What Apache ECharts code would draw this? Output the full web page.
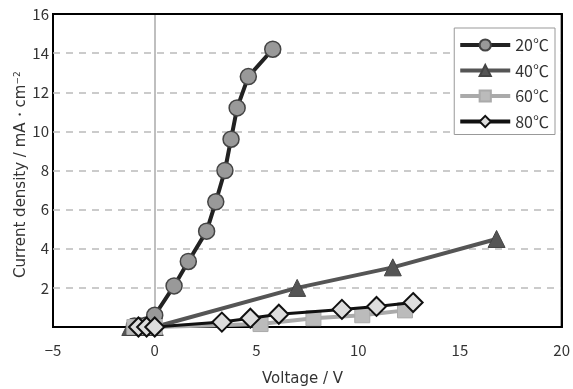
<!DOCTYPE html>
<html><head><meta charset="utf-8">
<script src="https://cdn.jsdelivr.net/npm/echarts@6/dist/echarts.min.js"></script>
<style>html,body{margin:0;padding:0;background:#fff}#c{width:573px;height:389px}</style>
</head><body><div id="c"></div>
<script>
const seriesNames = ['20℃', '40℃', '60℃', '80℃'];
const data20 = [[-1.0,0.05],[-0.7,0.05],[-0.4,0.1],[0,0.6],[0.95,2.1],[1.65,3.35],[2.55,4.9],[3.0,6.4],[3.45,8.0],[3.75,9.6],[4.05,11.2],[4.6,12.8],[5.8,14.2]];
const data40 = [[-1.2,0],[-0.8,0],[-0.4,0],[0,0],[7.0,2.0],[11.7,3.05],[16.8,4.5]];
const data60 = [[-1.0,0],[-0.5,0],[0,0],[5.2,0.15],[7.8,0.45],[10.2,0.6],[12.3,0.85]];
const data80 = [[-0.8,0],[-0.4,0],[0,0],[3.3,0.25],[4.7,0.45],[6.1,0.65],[9.2,0.9],[10.9,1.05],[12.7,1.25]];
const xTicks = [-5, 0, 5, 10, 15, 20];
const yTicks = [2, 4, 6, 8, 10, 12, 14, 16];

const font = '"Noto Sans CJK JP", "Noto Sans", sans-serif';
const wfont = '"DejaVu Sans", sans-serif';
const lineColors = ['#222', '#555', '#aaa', '#111'];
const frameAxis = { show: true, lineStyle: { color: '#000', width: 2 } };
const chart = echarts.init(document.getElementById('c'));
chart.setOption({
  animation: false,
  textStyle: { fontFamily: font },
  grid: { left: 53, right: 10, top: 14, bottom: 62, show: true, borderColor: '#000', borderWidth: 2, containLabel: false },
  xAxis: [{
    type: 'value', min: -5, max: 20, interval: 5,
    axisLine: { onZero: false, lineStyle: { color: '#000', width: 2 } },
    axisTick: { show: false },
    splitLine: { show: false },
    axisLabel: { color: '#333', fontSize: 15, margin: 16, fontFamily: font,
      formatter: v => xTicks.includes(v) ? String(v).replace('-', '−') : '' }
  }, {
    type: 'value', min: -5, max: 20, position: 'top',
    axisLine: { onZero: false, ...frameAxis }, axisTick: { show: false }, axisLabel: { show: false }, splitLine: { show: false }
  }],
  yAxis: [{
    type: 'value', min: 0, max: 16, interval: 2,
    axisLine: { onZero: true, lineStyle: { color: '#aaa', width: 1.5 } },
    axisTick: { show: false },
    splitLine: { show: true, lineStyle: { color: '#bbb', type: [7, 6], width: 1.5 } },
    axisLabel: { color: '#333', fontSize: 15, margin: 4, fontFamily: font,
      formatter: v => yTicks.includes(v) ? String(v) : '' }
  }, {
    type: 'value', min: 0, max: 16, position: 'right',
    axisLine: { onZero: false, ...frameAxis }, axisTick: { show: false }, axisLabel: { show: false }, splitLine: { show: false }
  }],
  legend: {
    orient: 'vertical', right: 18, top: 28, itemWidth: 50, itemHeight: 14, itemGap: 9.5,
    backgroundColor: '#fff', borderColor: '#999', borderWidth: 1, padding: [9, 6, 5, 4],
    textStyle: { fontSize: 16, color: '#333', fontFamily: font },
    data: seriesNames.map((n, i) => ({ name: n, lineStyle: { width: 4, color: lineColors[i] } }))
  },
  graphic: [
    { type: 'text', left: 262, top: 372, style: { text: 'Voltage / V', fontSize: 15, fill: '#333', fontFamily: wfont } },
    { type: 'text', x: 13, y: 278, rotation: Math.PI / 2,
      style: { text: '{a|Current density / mA・cm}{s|−2}', fill: '#333', fontFamily: wfont,
        rich: { a: { fontSize: 15, fill: '#333', fontFamily: wfont }, s: { fontSize: 9, fill: '#333', verticalAlign: 'top', padding: [0,0,8,0], fontFamily: wfont } } } }
  ],
  series: [
    { name: seriesNames[0], type: 'line', data: data20, symbol: 'circle', symbolSize: 16,
      lineStyle: { color: lineColors[0], width: 4 }, itemStyle: { color: '#999', borderColor: '#444', borderWidth: 1.5 }, z: 3 },
    { name: seriesNames[1], type: 'line', data: data40, symbol: 'triangle', symbolSize: 17,
      lineStyle: { color: lineColors[1], width: 4 }, itemStyle: { color: '#555', borderColor: '#444', borderWidth: 1 }, z: 4 },
    { name: seriesNames[2], type: 'line', data: data60, symbol: 'rect', symbolSize: 15,
      lineStyle: { color: lineColors[2], width: 4 }, itemStyle: { color: '#bbb', borderColor: '#aaa', borderWidth: 1 }, z: 5 },
    { name: seriesNames[3], type: 'line', data: data80, symbol: 'diamond', symbolSize: 19,
      lineStyle: { color: lineColors[3], width: 3 }, itemStyle: { color: '#ddd', borderColor: '#111', borderWidth: 2 }, z: 6 }
  ]
});
</script></body></html>
